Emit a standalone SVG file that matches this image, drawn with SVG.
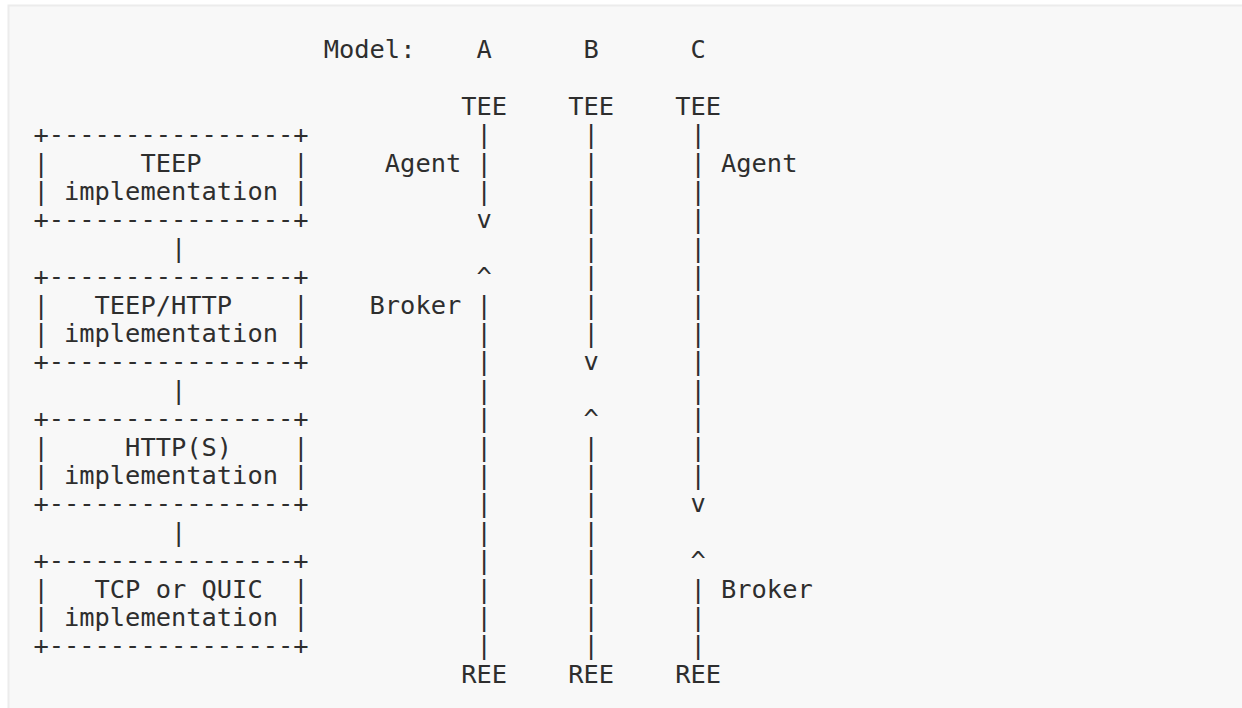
<svg xmlns="http://www.w3.org/2000/svg" width="1242" height="708" viewBox="0 0 1242 708">
<style>
text{font-family:"DejaVu Sans Mono","Liberation Mono",monospace;font-size:25.4px;fill:#2e2e2e;white-space:pre}
</style>
<rect x="0" y="0" width="1242" height="708" fill="#ffffff"/>
<rect x="8.5" y="5.5" width="1250" height="720" fill="#f8f8f8" stroke="#ececec" stroke-width="2"/>
<g id="labels">
<text x="323.72" y="58">Model:</text>
<text x="476.52" y="58">A</text>
<text x="583.48" y="58">B</text>
<text x="690.44" y="58">C</text>
<text x="461.24" y="114.8">TEE</text>
<text x="568.2" y="114.8">TEE</text>
<text x="675.16" y="114.8">TEE</text>
<text x="384.84" y="171.6">Agent</text>
<text x="721" y="171.6">Agent</text>
<text x="369.56" y="313.6">Broker</text>
<text x="721" y="597.6">Broker</text>
<text x="461.24" y="682.8">REE</text>
<text x="568.2" y="682.8">REE</text>
<text x="675.16" y="682.8">REE</text>
</g>
<g id="node-teep">
<text x="33.4" y="143.2">+----------------+</text>
<text x="33.4" y="171.6">|      TEEP      |</text>
<text x="33.4" y="200">| implementation |</text>
<text x="33.4" y="228.4">+----------------+</text>
</g>
<g id="node-teep-http">
<text x="33.4" y="285.2">+----------------+</text>
<text x="33.4" y="313.6">|   TEEP/HTTP    |</text>
<text x="33.4" y="342">| implementation |</text>
<text x="33.4" y="370.4">+----------------+</text>
</g>
<g id="node-https">
<text x="33.4" y="427.2">+----------------+</text>
<text x="33.4" y="455.6">|     HTTP(S)    |</text>
<text x="33.4" y="484">| implementation |</text>
<text x="33.4" y="512.4">+----------------+</text>
</g>
<g id="node-tcp">
<text x="33.4" y="569.2">+----------------+</text>
<text x="33.4" y="597.6">|   TCP or QUIC  |</text>
<text x="33.4" y="626">| implementation |</text>
<text x="33.4" y="654.4">+----------------+</text>
</g>
<g id="connectors">
<text x="170.92" y="256.8">|</text>
<text x="170.92" y="398.8">|</text>
<text x="170.92" y="540.8">|</text>
<!-- Model A -->
<text x="476.52" y="143.2">|</text>
<text x="476.52" y="171.6">|</text>
<text x="476.52" y="200">|</text>
<text x="476.52" y="228.4">v</text>
<text x="476.52" y="285.2">^</text>
<text x="476.52" y="313.6">|</text>
<text x="476.52" y="342">|</text>
<text x="476.52" y="370.4">|</text>
<text x="476.52" y="398.8">|</text>
<text x="476.52" y="427.2">|</text>
<text x="476.52" y="455.6">|</text>
<text x="476.52" y="484">|</text>
<text x="476.52" y="512.4">|</text>
<text x="476.52" y="540.8">|</text>
<text x="476.52" y="569.2">|</text>
<text x="476.52" y="597.6">|</text>
<text x="476.52" y="626">|</text>
<text x="476.52" y="654.4">|</text>
<!-- Model B -->
<text x="583.48" y="143.2">|</text>
<text x="583.48" y="171.6">|</text>
<text x="583.48" y="200">|</text>
<text x="583.48" y="228.4">|</text>
<text x="583.48" y="256.8">|</text>
<text x="583.48" y="285.2">|</text>
<text x="583.48" y="313.6">|</text>
<text x="583.48" y="342">|</text>
<text x="583.48" y="370.4">v</text>
<text x="583.48" y="427.2">^</text>
<text x="583.48" y="455.6">|</text>
<text x="583.48" y="484">|</text>
<text x="583.48" y="512.4">|</text>
<text x="583.48" y="540.8">|</text>
<text x="583.48" y="569.2">|</text>
<text x="583.48" y="597.6">|</text>
<text x="583.48" y="626">|</text>
<text x="583.48" y="654.4">|</text>
<!-- Model C -->
<text x="690.44" y="143.2">|</text>
<text x="690.44" y="171.6">|</text>
<text x="690.44" y="200">|</text>
<text x="690.44" y="228.4">|</text>
<text x="690.44" y="256.8">|</text>
<text x="690.44" y="285.2">|</text>
<text x="690.44" y="313.6">|</text>
<text x="690.44" y="342">|</text>
<text x="690.44" y="370.4">|</text>
<text x="690.44" y="398.8">|</text>
<text x="690.44" y="427.2">|</text>
<text x="690.44" y="455.6">|</text>
<text x="690.44" y="484">|</text>
<text x="690.44" y="512.4">v</text>
<text x="690.44" y="569.2">^</text>
<text x="690.44" y="597.6">|</text>
<text x="690.44" y="626">|</text>
<text x="690.44" y="654.4">|</text>
</g>
</svg>
